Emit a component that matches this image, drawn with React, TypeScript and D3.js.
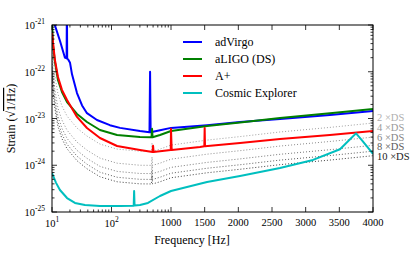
import React from "react";
import * as d3 from "d3";

// frequency [Hz], strain [1/sqrt(Hz)]
const adVirgo: [number, number][] = [
  [11, 1.05e-21], [13.6, 4.6e-22], [16.5, 2.0e-22], [17.6, 1.93e-22],
  [17.8, 3e-21], [18.0, 1.9e-22], [18.6, 1.85e-22], [20.1, 1.55e-22],
  [21.7, 8.8e-23], [26.3, 3.5e-23], [32, 1.9e-23], [38.7, 1.3e-23],
  [57, 9.3e-24], [94, 7.2e-24], [139, 6.3e-24], [301, 5.4e-24],
  [435, 5.1e-24], [445, 1.0e-22], [455, 5.1e-24], [653, 5.6e-24],
  [1000, 6.3e-24], [1535, 7.2e-24], [2025, 8.42e-24], [2619, 9.76e-24],
  [3360, 1.19e-23], [4000, 1.45e-23],
];

const aLIGO: [number, number][] = [
  [10, 1.2e-21], [10.4, 3.7e-22], [11.2, 1.62e-22], [12.6, 6.67e-23],
  [14.7, 3.7e-23], [17.9, 2.25e-23], [26.3, 1.25e-23], [38.7, 8.42e-24],
  [64, 5.67e-24], [124, 4.43e-24], [301, 4.0e-24], [470, 3.98e-24],
  [480, 6.0e-24], [490, 3.98e-24], [653, 4.43e-24], [1000, 5.4e-24],
  [1535, 6.9e-24], [2025, 8.2e-24], [2619, 1.03e-23], [3360, 1.29e-23],
  [4000, 1.6e-23],
];

const aPlus: [number, number][] = [
  [10, 6.74e-22], [11.2, 1.78e-22], [12.6, 7.73e-23], [14.7, 4.1e-23],
  [17.9, 2.49e-23], [26.3, 1.08e-23], [38.7, 6.26e-24], [64, 3.83e-24],
  [124, 2.58e-24], [301, 2.12e-24], [490, 1.93e-24], [500, 2.6e-24],
  [510, 1.93e-24], [653, 2.0e-24], [990, 2.12e-24], [1000, 6.0e-24],
  [1010, 2.12e-24], [1431, 2.45e-24], [1495, 2.55e-24], [1500, 6.3e-24],
  [1505, 2.56e-24], [2025, 2.99e-24], [2619, 3.64e-24], [3360, 4.43e-24],
  [4000, 5.4e-24],
];

const cosmicExplorer: [number, number][] = [
  [10, 6.8e-25], [11.7, 4.2e-25], [13.6, 2.96e-25], [17.9, 1.99e-25],
  [24.3, 1.56e-25], [35.8, 1.41e-25], [64, 1.34e-25], [139, 1.34e-25],
  [236, 1.36e-25], [240, 2.8e-25], [244, 1.37e-25], [301, 1.41e-25],
  [410, 1.56e-25], [653, 2.2e-25], [1000, 2.81e-25], [1535, 4.4e-25],
  [2025, 5.9e-25], [2619, 8.7e-25], [3109, 1.3e-24], [3510, 2.2e-24],
  [3659, 3.6e-24], [3748, 4.8e-24], [3837, 3.4e-24], [4000, 1.75e-24],
];

const dsFactors = [2, 4, 6, 8, 10];
const dsLabels = ["2 ×DS", "4 ×DS", "6 ×DS", "8 ×DS", "10 ×DS"];
const dsLabelColors = ["#b0b0b0", "#9a9a9a", "#858585", "#5a5a5a", "#1a1a1a"];
const dsLineColors = ["#a0a0a0", "#8c8c8c", "#787878", "#5c5c5c", "#404040"];

const legendNames = ["adVirgo", "aLIGO (DS)", "A+", "Cosmic Explorer"];
const legendColors = ["#0000ff", "#008000", "#ff0000", "#00bfbf"];

const xLogTicks = [10, 100];
const xLogTickExp = ["1", "2"];
const xLinTicks = [1000, 1500, 2000, 2500, 3000, 3500, 4000];
const yTickExp = [-25, -24, -23, -22, -21];

const W = 415, H = 256;
const L = 52, R = 373, T = 25, B = 212;
const FONT = "'Liberation Serif', 'Times New Roman', serif";

export default function App() {
  const xLog = d3.scaleLog().domain([10, 1000]).range([L, 171]);
  const xLin = d3.scaleLinear().domain([1000, 4000]).range([171, R]);
  const x = (f: number) => (f <= 1000 ? xLog(f) : xLin(f));
  const y = d3.scaleLog().domain([1e-25, 1e-21]).range([B, T]);

  const line = d3.line<[number, number]>().x(d => x(d[0])).y(d => y(d[1]));
  const series = [adVirgo, aLIGO, aPlus, cosmicExplorer];

  const xMinor: number[] = [];
  [10, 100].forEach(dec => d3.range(2, 10).forEach(k => xMinor.push(dec * k)));
  const yMinor: number[] = [];
  yTickExp.slice(0, -1).forEach(e => d3.range(2, 10).forEach(k => yMinor.push(k * Math.pow(10, e))));

  const xMajors = [...xLogTicks, ...xLinTicks];

  return (
    <svg width={W} height={H} style={{ position: "absolute", left: 0, top: 0, background: "#fff" }} fontFamily={FONT}>
      <defs>
        <clipPath id="plot">
          <rect x={L} y={T} width={R - L} height={B - T} />
        </clipPath>
      </defs>

      <g clipPath="url(#plot)">
        {dsFactors.map((k, i) => (
          <path key={k} d={line(aLIGO.map(d => [d[0], d[1] / k]) as [number, number][]) || ""}
            fill="none" stroke={dsLineColors[i]} strokeWidth={1} strokeDasharray="1 2" />
        ))}
        {series.map((s, i) => (
          <path key={i} d={line(s) || ""} fill="none" stroke={legendColors[i]} strokeWidth={2} strokeLinejoin="round" />
        ))}
      </g>

      {/* ticks */}
      <g stroke="#000" strokeWidth={0.8}>
        {xMajors.map(f => (
          <g key={"xm" + f}>
            <line x1={x(f)} x2={x(f)} y1={B} y2={B - 5} />
            <line x1={x(f)} x2={x(f)} y1={T} y2={T + 5} />
          </g>
        ))}
        {xMinor.map(f => (
          <g key={"xn" + f}>
            <line x1={x(f)} x2={x(f)} y1={B} y2={B - 2.5} />
            <line x1={x(f)} x2={x(f)} y1={T} y2={T + 2.5} />
          </g>
        ))}
        {yTickExp.map(e => (
          <g key={"ym" + e}>
            <line x1={L} x2={L + 5} y1={y(Math.pow(10, e))} y2={y(Math.pow(10, e))} />
            <line x1={R} x2={R - 5} y1={y(Math.pow(10, e))} y2={y(Math.pow(10, e))} />
          </g>
        ))}
        {yMinor.map(v => (
          <g key={"yn" + v}>
            <line x1={L} x2={L + 2.5} y1={y(v)} y2={y(v)} />
            <line x1={R} x2={R - 2.5} y1={y(v)} y2={y(v)} />
          </g>
        ))}
      </g>
      <rect x={L} y={T} width={R - L} height={B - T} fill="none" stroke="#000" strokeWidth={1} />

      {/* tick labels */}
      <g fontSize={10.5} fill="#000">
        {xLogTicks.map((f, i) => (
          <text key={f} x={x(f)} y={227} textAnchor="middle">
            10<tspan dy={-5} fontSize={7.5}>{xLogTickExp[i]}</tspan>
          </text>
        ))}
        {xLinTicks.map(f => (
          <text key={f} x={x(f)} y={226} textAnchor="middle">{f}</text>
        ))}
        {yTickExp.map(e => (
          <text key={e} x={45} y={y(Math.pow(10, e)) + 4} textAnchor="end">
            10<tspan dy={-5} fontSize={7.5}>{"-" + Math.abs(e)}</tspan>
          </text>
        ))}
      </g>

      {/* axis labels */}
      <text x={192} y={244} fontSize={12} textAnchor="middle">Frequency [Hz]</text>
      <text transform={`translate(15,${(T + B) / 2}) rotate(-90)`} fontSize={12} textAnchor="middle">
        Strain (√<tspan style={{ textDecoration: "overline" }}>1/Hz</tspan>)
      </text>

      {/* legend */}
      {legendNames.map((n, i) => (
        <g key={n}>
          <line x1={183} x2={202} y1={42 + i * 17} y2={42 + i * 17} stroke={legendColors[i]} strokeWidth={2} />
          <text x={215} y={46 + i * 17} fontSize={12}>{n}</text>
        </g>
      ))}

      {/* DS labels */}
      {dsLabels.map((t, i) => (
        <text key={t} x={377} y={121 + i * 9.8} fontSize={10.5} fill={dsLabelColors[i]}>{t}</text>
      ))}
    </svg>
  );
}
